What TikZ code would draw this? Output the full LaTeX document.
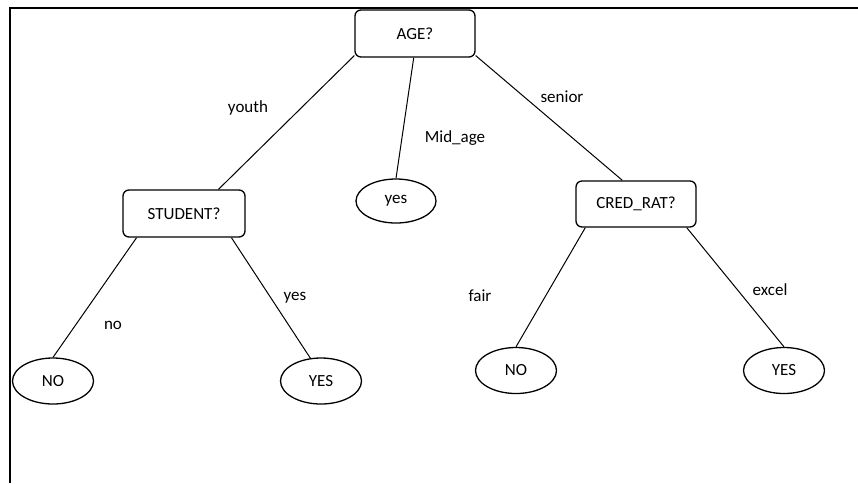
\documentclass[tikz,border=0pt]{standalone}
\usepackage{fontspec}
\setmainfont{Carlito}
\usetikzlibrary{shapes.geometric}

\tikzset{
  testbox/.style={draw, line width=1.3pt, rounded corners=6pt, minimum width=120pt,
    minimum height=47pt, inner sep=0pt, font=\fontsize{17}{20}\selectfont},
  leaf/.style={draw, ellipse, line width=1.3pt, minimum width=81pt, minimum height=46pt,
    inner sep=0pt, font=\fontsize{17}{20}\selectfont},
  branch/.style={line width=1pt},
  edgelabel/.style={inner sep=0pt, font=\fontsize{17}{20}\selectfont},
  frame/.style={line width=2pt}
}

\begin{document}
\begin{tikzpicture}[x=1pt, y=-1pt]
  \useasboundingbox (0,0) rectangle (858,483);

  % page frame (top and left edges)
  \coordinate (fTR) at (858,8);
  \coordinate (fTL) at (10,8);
  \coordinate (fBL) at (10,483);
  \draw[frame] (fTR) -- (fTL) -- (fBL);

  % decision nodes
  \node[testbox] (age) at (415,33.5) {AGE?};
  \node[testbox, minimum width=122pt] (student) at (184,213.5) {STUDENT?};
  \node[testbox, minimum height=46pt] (cred) at (636,204) {CRED\_RAT?};

  % leaves
  \node[leaf, minimum width=80pt, minimum height=44pt] (yesM) at (396,201) {yes};
  \node[leaf] (noL) at (53,381) {NO};
  \node[leaf] (yesL) at (321,381) {YES};
  \node[leaf] (noR) at (516,370.5) {NO};
  \node[leaf] (yesR) at (784,370.5) {YES};

  % branches
  \draw[branch] (age.200) -- (student.35);
  \draw[branch] (age.-93) -- (yesM.north);
  \draw[branch] (age.-20) -- (cred.120);
  \draw[branch] (student.207) -- (noL.north);
  \draw[branch] (student.333) -- (yesL.115);
  \draw[branch] (cred.205) -- (noR.north);
  \draw[branch] (cred.335) -- (yesR.north);

  % branch labels
  \node[edgelabel] (lyouth) at (248,108) {youth};
  \node[edgelabel] (lmid) at (455,138) {Mid\_age};
  \node[edgelabel] (lsenior) at (562,97) {senior};
  \node[edgelabel] (lno) at (113,325) {no};
  \node[edgelabel] (lyes) at (295,298) {yes};
  \node[edgelabel] (lfair) at (480,296) {fair};
  \node[edgelabel] (lexcel) at (770,290) {excel};
\end{tikzpicture}
\end{document}
